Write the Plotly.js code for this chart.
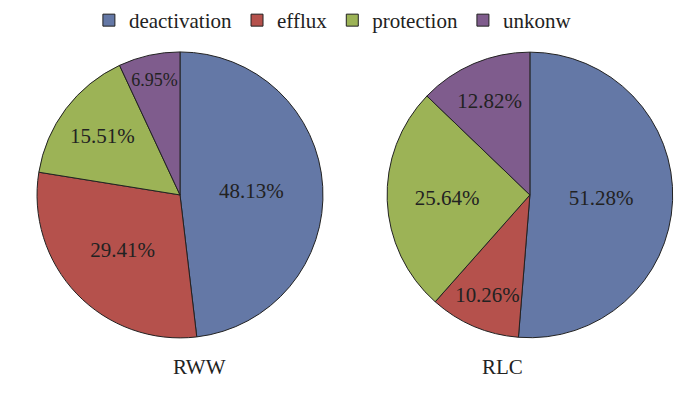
<!DOCTYPE html>
<html>
<head>
<meta charset="utf-8">
<script src="https://cdn.plot.ly/plotly-3.0.1.min.js"></script>
<style>html,body{margin:0;padding:0;background:#fff;}#chart{width:700px;height:393px;}</style>
</head>
<body>
<div id="chart"></div>
<script>
const categories = ["deactivation", "efflux", "protection", "unkonw"];
const groups = ["RWW", "RLC"];
const rwwValues = [48.13, 29.41, 15.51, 6.95];
const rlcValues = [51.28, 10.26, 25.64, 12.82];
const colors = ["#6478a6", "#b5514c", "#9cb356", "#7f5c8d"];

const fontFamily = "Liberation Serif, Times New Roman, serif";
function pieTrace(vals, domainX, show) {
  return {
    type: "pie",
    labels: categories,
    values: vals,
    sort: false,
    direction: "clockwise",
    rotation: 0,
    domain: {x: domainX, y: [0.14, 0.868]},
    marker: {colors: colors, line: {color: "#222", width: 1}},
    texttemplate: "%{value:.2f}%",
    textposition: "inside",
    insidetextorientation: "horizontal",
    textfont: {family: fontFamily, size: 21, color: "#222"},
    showlegend: show,
    hoverinfo: "label+value"
  };
}
const data = [
  pieTrace(rwwValues, [0.0529, 0.4614], true),
  pieTrace(rlcValues, [0.553, 0.961], false)
];
const layout = {
  width: 700, height: 393,
  margin: {l: 0, r: 0, t: 0, b: 0},
  paper_bgcolor: "#fff",
  font: {family: fontFamily, size: 21, color: "#222"},
  legend: {orientation: "h", x: 0.127, xanchor: "left", y: 1.0, yanchor: "top", font: {family: fontFamily, size: 21, color: "#222"}, itemwidth: 30},
  annotations: [
    {text: groups[0], x: 0.244, y: 0.066, xref: "paper", yref: "paper", yanchor: "middle", showarrow: false, font: {family: fontFamily, size: 21, color: "#222"}},
    {text: groups[1], x: 0.75, y: 0.066, xref: "paper", yref: "paper", yanchor: "middle", showarrow: false, font: {family: fontFamily, size: 21, color: "#222"}}
  ]
};
Plotly.newPlot("chart", data, layout, {displayModeBar: false});
</script>
</body>
</html>
